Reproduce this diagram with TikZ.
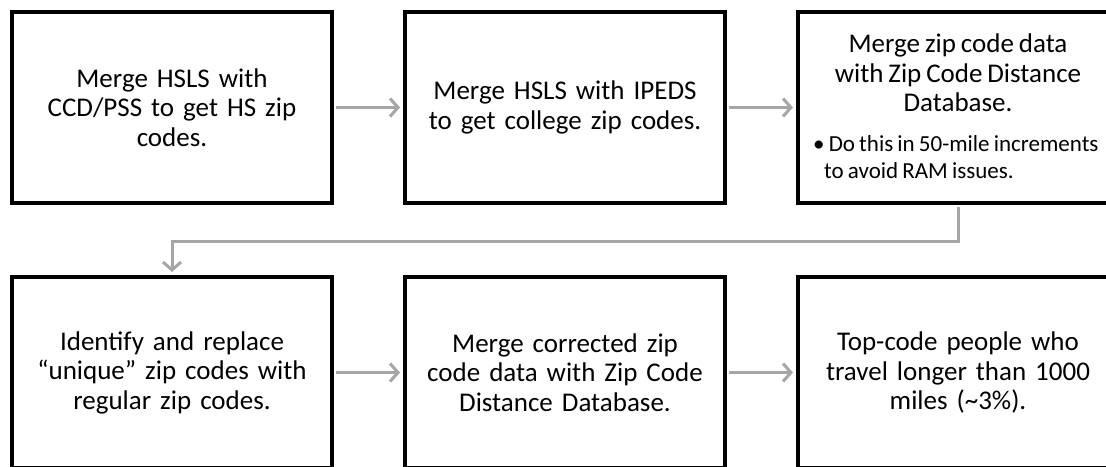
\documentclass[tikz,border=0pt]{standalone}
\usepackage{fontspec}
\setmainfont{Carlito}[WordSpace=0.8]
\usetikzlibrary{arrows.meta}
\definecolor{arrowgray}{HTML}{A6A6A6}
\begin{document}
\begin{tikzpicture}[x=1pt,y=-1pt,
  box/.style={draw=black, line width=4pt, minimum width=320pt, minimum height=191pt, inner sep=0pt, align=center, text width=300pt, font=\fontsize{27}{29.5}\selectfont},
  conn/.style={draw=arrowgray, line width=3pt, -{Straight Barb[length=8pt,width=18pt]}, shorten <=2pt, shorten >=3pt}]
\useasboundingbox (0,0) rectangle (1106,466);
\node[box] (b1) at (172,107.5) {Merge HSLS with\\CCD/PSS to get HS zip\\codes.};
\node[box] (b2) at (565,107.5) {Merge HSLS with IPEDS\\to get college zip codes.};
\node[box] (b3) at (958,107.5) {};
\node[align=center, font=\fontsize{27}{29.5}\selectfont, anchor=north, inner sep=0pt] (t3) at (958,34) {Merge zip code data\\with Zip Code Distance\\Database.};
\node[align=left, font=\fontsize{23}{27}\selectfont, anchor=north west, inner sep=0pt] (t3b) at (813,135) {\textbullet\ Do this in 50-mile increments\\\hspace*{11pt}to avoid RAM issues.};
\node[box] (b4) at (172,372.5) {Identify and replace\\“unique” zip codes with\\regular zip codes.};
\node[box] (b5) at (565,372.5) {Merge corrected zip\\code data with Zip Code\\Distance Database.};
\node[box] (b6) at (958,372.5) {Top-code people who\\travel longer than 1000\\miles (\textasciitilde3\%).};
\draw[conn] (b1.east) -- (b2.west);
\draw[conn] (b2.east) -- (b3.west);
\draw[conn] (b3.south) -- ++(0,36) -| (b4.north);
\draw[conn] (b4.east) -- (b5.west);
\draw[conn] (b5.east) -- (b6.west);
\end{tikzpicture}
\end{document}
